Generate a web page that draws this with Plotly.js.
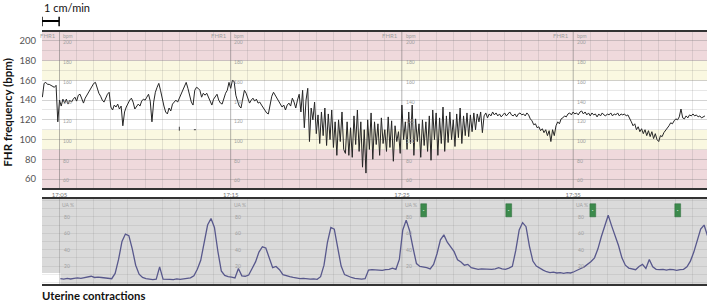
<!DOCTYPE html>
<html><head><meta charset="utf-8">
<script src="https://cdn.plot.ly/plotly-3.0.1.min.js"></script>
<style>html,body{margin:0;padding:0;background:#fff;} #chart{width:709px;height:306px;}</style>
</head><body><div id="chart"></div>
<script>
// time in minutes after 17:00
const fhrStart = 4.0, fhrStep = 0.1;
const fhrValues = [
143,157,158,156,156,155,154,153,155,118,
140,134,141,137,141,136,140,138,141,143,
139,145,146,141,137,142,145,149,152,155,
157,158,152,147,144,140,138,143,146,148,
133,130,135,133,136,131,134,114,128,133,
137,140,142,138,131,133,136,134,139,141,
140,143,146,139,118,138,148,153,157,150,
140,134,128,126,132,129,136,138,140,138,
142,145,150,154,158,152,146,138,135,150,
153,152,150,143,147,
145,147,143,140,135,
141,144,146,140,137,136,143,147,150,158,
152,160,159,145,139,134,132,140,150,147,
142,137,140,142,139,141,137,138,135,132,
130,127,126,136,144,148,145,142,139,136,
133,135,130,135,137,134,142,138,132,140,
146,128,150,112,140,152,98,132,120,138,
106,125,96,128,104,132,94,126,100,130,
92,118,84,120,98,128,90,
86,118,84,112,82,124,95,130,88,118,
72,110,66,120,90,127,80,118,95,116,
84,122,96,110,88,123,92,119,78,114,
98,108,86,135,100,118,90,128,96,135,
84,121,98,116,82,120,94,118,88,124,
79,130,100,127,84,122,96,133,88,124,
97,128,100,120,93,126,102,132,96,124,
104,127,103,125,108,127,
110,126,118,128,107,124,127,122,126,124,
128,125,127,124,126,123,125,127,124,126,
128,125,124,126,123,126,127,125,126,124,
127,125,121,119,115,116,112,113,109,111,
107,110,104,109,98,110,104,114,118,116,
121,122,124,123,126,127,125,128,126,127,
125,128,129,126,128,125,127,124,127,125,
126,123,126,124,127,125,124,126,125,127,
124,126,125,127,124,126,125,126,124,125,
122,118,114,116,110,113,108,111,106,110,
104,109,103,108,101,106,100,98,104,103,
107,109,112,114,117,116,119,121,120,123,
131,122,121,124,122,125,124,126,124,125,
123,124,122,123,124
];
const ucStart = 5.05, ucStep = 0.2;
const ucValues = [
4.5,4,4.8,4.2,5,5.5,5,6,7,7.5,
6,6.5,6,5.5,5,4.5,11,28,50,59,
57,41,21,10,6,4.5,4,3.5,4,19,
4,3.5,3.8,3.5,4.2,3.6,4,4.5,5.5,8,
16,27,48,70,78,67,38,14,8.5,7,
6.5,5.5,
17,8,7.5,9,17,25,37,43.5,42,29,
18,19.5,15.5,9.5,8,7,6,5,4.5,4.8,
4.2,4,4.3,3.8,7,21,49,67,65,40,
20,9.5,7.5,6,5,4.5,4,4.5,15,15.5,
15,15.2,14.8,15.5,16,17.5,16,28,64,76,
63,42,23,19.5,19,18,16.5,22,35,52,
58,49,43.5,37.5,27.5,
25,21,22,18,17,16,16.5,16,16.2,15.8,
16.5,18,16.5,16,17.5,19.5,39,64,73,68,
44,26,20,17,15,13,12,12.5,11.5,12,
11,12,11.5,13,15.5,17,19,22,25.5,30,
41,56,70,82,69,58,45,30,21,17.5,
16.5,15.5,19.5,22,17,28,19,16,15.5,16,
15,16,15.5,14.8,15.5,16,19,26,37,50,
65,70,57
];
const dropoutTimes = [12.0, 12.0, null, 12.85, 12.97];
const dropoutValues = [113, 109, null, 110, 110];
const majorTimes = [5, 15, 25, 35];
const timeLabels = ['17:05', '17:15', '17:25', '17:35'];
const fhrTicks = [200, 180, 160, 140, 120, 100, 80, 60];
const ucTicks = [80, 60, 40, 20];
const eventTimes = [26.27, 31.24, 36.15, 41.11];
const bandLow = [50.9, 90, 110, 160, 180];
const bandHigh = [90, 110, 160, 180, 209.1];
const bandColors = ['#efd9dc', '#faf8e1', '#ffffff', '#faf8e1', '#efd9dc'];

const xRange = [3.978, 42.82];
const fhrRange = [50.9, 209.1];
const ucRange = [-1.95, 101.7];

const fhrX = fhrValues.map((v, i) => fhrStart + i * fhrStep);
const ucX = ucValues.map((v, i) => ucStart + i * ucStep);

const traces = [
  {x: fhrX, y: fhrValues, xaxis: 'x', yaxis: 'y', mode: 'lines', line: {color: '#262626', width: 1}, hoverinfo: 'skip'},
  {x: dropoutTimes, y: dropoutValues, xaxis: 'x', yaxis: 'y', mode: 'lines', line: {color: '#444', width: 1}, hoverinfo: 'skip'},
  {x: ucX, y: ucValues, xaxis: 'x2', yaxis: 'y2', mode: 'lines', line: {color: '#58588c', width: 1.3}, hoverinfo: 'skip'}
];

const shapes = [];
bandLow.forEach((lo, k) => shapes.push({type: 'rect', xref: 'paper', yref: 'y', x0: 0, x1: 1, y0: lo, y1: bandHigh[k], fillcolor: bandColors[k], line: {width: 0}, layer: 'below'}));
shapes.push({type: 'rect', xref: 'paper', yref: 'y2', x0: 0, x1: 1, y0: ucRange[0], y1: ucRange[1], fillcolor: '#dadada', line: {width: 0}, layer: 'below'});
shapes.push({type: 'rect', xref: 'x2', yref: 'y2', x0: xRange[0], x1: ucStart, y0: ucRange[0], y1: 11.5, fillcolor: '#ffffff', line: {width: 0}, layer: 'below'});
majorTimes.forEach(t => {
  shapes.push({type: 'line', xref: 'x', yref: 'y', x0: t, x1: t, y0: fhrRange[0], y1: fhrRange[1], line: {color: 'rgba(90,90,90,0.35)', width: 1}, layer: 'below'});
  shapes.push({type: 'line', xref: 'x2', yref: 'y2', x0: t, x1: t, y0: ucRange[0], y1: ucRange[1], line: {color: 'rgba(90,90,90,0.25)', width: 1}, layer: 'below'});
});
eventTimes.forEach(t => shapes.push({type: 'rect', xref: 'x2', yref: 'y2', x0: t - 0.17, x1: t + 0.17, y0: 80, y1: 96, fillcolor: '#3c8a4c', line: {color: '#2d6b3a', width: 0.5}, layer: 'above'}));
// scale bar 1 cm = 1 min
const barY = 1.0437;
shapes.push({type: 'line', xref: 'x', yref: 'paper', x0: xRange[0], x1: xRange[0] + 1, y0: barY, y1: barY, line: {color: '#000', width: 2}});
[xRange[0], xRange[0] + 1].forEach(x => shapes.push({type: 'line', xref: 'x', yref: 'paper', x0: x, x1: x, y0: 1.0227, y1: 1.0604, line: {color: '#000', width: 1.5}}));

const annotations = [
  {text: '1 cm/min', xref: 'paper', yref: 'paper', x: 0, y: 1.0972, xanchor: 'left', yanchor: 'middle', showarrow: false, font: {family: 'Lato, sans-serif', size: 11, color: '#111'}},
  {text: '<b>FHR frequency (bpm)</b>', xref: 'paper', yref: 'paper', x: -0.0511, y: 0.68, xanchor: 'center', yanchor: 'middle', textangle: -90, showarrow: false, font: {family: 'Lato, sans-serif', size: 11.5, color: '#111'}},
  {text: '<b>Uterine contractions</b>', xref: 'paper', yref: 'paper', x: -0.003, y: -0.045, xanchor: 'left', yanchor: 'middle', showarrow: false, font: {family: 'Lato, sans-serif', size: 11.3, color: '#111'}}
];
const tiny = {family: 'Lato, sans-serif', size: 5, color: '#a0a0a0'};
majorTimes.forEach(t => {
  annotations.push({text: 'FHR1', xref: 'x', yref: 'y', x: t - 0.1, y: 205.5, xanchor: 'right', yanchor: 'middle', showarrow: false, font: {family: 'Lato, sans-serif', size: 6, color: '#a0a0a0'}});
  annotations.push({text: 'bpm', xref: 'x', yref: 'y', x: t + 0.1, y: 205.5, xanchor: 'left', yanchor: 'middle', showarrow: false, font: tiny});
  fhrTicks.forEach(v => annotations.push({text: String(v), xref: 'x', yref: 'y', x: t + 0.1, y: v - 1.5, xanchor: 'left', yanchor: 'middle', showarrow: false, font: tiny}));
  annotations.push({text: 'UA %', xref: 'x2', yref: 'y2', x: t + 0.05, y: 95, xanchor: 'left', yanchor: 'middle', showarrow: false, font: tiny});
  ucTicks.forEach(v => annotations.push({text: String(v), xref: 'x2', yref: 'y2', x: t + 0.15, y: v, xanchor: 'left', yanchor: 'middle', showarrow: false, font: tiny}));
});
eventTimes.forEach(t => annotations.push({text: '▪', xref: 'x2', yref: 'y2', x: t, y: 88, xanchor: 'center', yanchor: 'middle', showarrow: false, font: {size: 4, color: '#cfe8d2'}}));

const gridCol = 'rgba(110,110,110,0.17)';
const layout = {
  width: 709, height: 306,
  margin: {l: 42, r: 2, t: 32, b: 22},
  paper_bgcolor: '#ffffff', plot_bgcolor: 'rgba(0,0,0,0)',
  showlegend: false,
  xaxis: {anchor: 'y', domain: [0, 1], range: xRange, tickmode: 'array', tickvals: majorTimes, ticktext: timeLabels,
    tickfont: {family: 'Lato, sans-serif', size: 6, color: '#777'}, ticks: 'outside', ticklen: 0, tickcolor: 'rgba(0,0,0,0)',
    showgrid: false, minor: {tick0: 0, dtick: 1, showgrid: true, gridcolor: gridCol, gridwidth: 1},
    showline: true, mirror: true, linecolor: '#333', linewidth: 2, zeroline: false, fixedrange: true},
  yaxis: {anchor: 'x', domain: [0.381, 1], range: fhrRange, tickmode: 'array', tickvals: fhrTicks,
    tickfont: {family: 'Lato, sans-serif', size: 9.5, color: '#555'}, ticks: 'outside', ticklen: 3, tickcolor: 'rgba(0,0,0,0)',
    showgrid: true, gridcolor: gridCol, minor: {tick0: 0, dtick: 10, showgrid: true, gridcolor: gridCol},
    showline: false, zeroline: false, fixedrange: true},
  xaxis2: {anchor: 'y2', domain: [0, 1], range: xRange, showticklabels: false, ticks: '',
    showgrid: false, minor: {tick0: 0, dtick: 1, showgrid: true, gridcolor: 'rgba(100,100,100,0.12)'},
    showline: true, mirror: true, linecolor: '#333', linewidth: 2, zeroline: false, fixedrange: true},
  yaxis2: {anchor: 'x2', domain: [0, 0.337], range: ucRange, tickmode: 'linear', tick0: 0, dtick: 10, showticklabels: false, ticks: '',
    showgrid: true, gridcolor: 'rgba(100,100,100,0.12)', showline: false, zeroline: false, fixedrange: true},
  shapes: shapes,
  annotations: annotations
};
Plotly.newPlot('chart', traces, layout, {displayModeBar: false, staticPlot: true});
</script></body></html>
